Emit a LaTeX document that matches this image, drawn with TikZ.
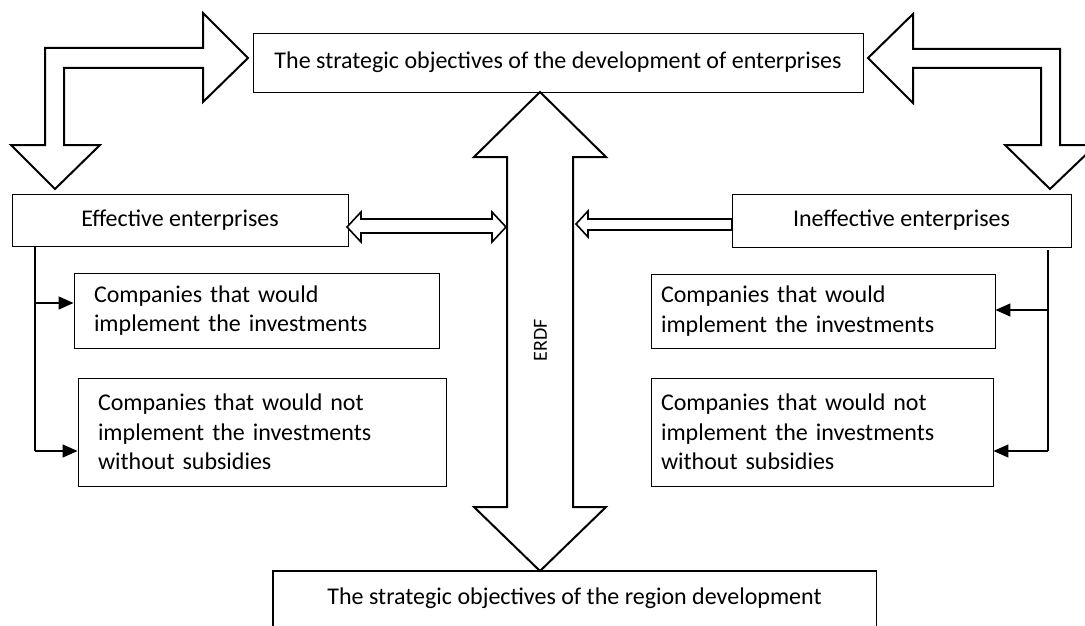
\documentclass[tikz,border=0pt]{standalone}
\usepackage{fontspec}
\setmainfont{Carlito}
\usetikzlibrary{arrows.meta}
\begin{document}
\begin{tikzpicture}[x=1pt,y=-1pt,
  box/.style={draw,line width=0.9pt,inner sep=0pt,font=\fontsize{24}{29.5}\selectfont},
  lbox/.style={box,align=left,text width=#1},
  blockarrow/.style={draw,line width=2pt,line join=miter,fill=white},
  thinarrow/.style={draw,line width=1.6pt,line join=miter,fill=white},
  conn/.style={line width=1.4pt},
  arr/.style={conn,-{Triangle[length=15pt,width=13pt]}}]
\clip (0,0) rectangle (1085,626);
\fill[white] (0,0) rectangle (1085,626);
% boxes
\node[box,minimum width=610pt,minimum height=59pt] (top) at (558,62.5) {The strategic objectives of the development of enterprises};
\node[box,minimum width=336pt,minimum height=52pt] (eff) at (180,220) {Effective enterprises};
\node[box,minimum width=339pt,minimum height=53pt] (ineff) at (901.5,220.5) {Ineffective enterprises};
\node[lbox=325pt,minimum height=75pt,inner xsep=20pt] (L2) at (256.5,310.5) {Companies that would\\implement the investments};
\node[lbox=328pt,minimum height=108pt,inner xsep=20pt] (L3) at (262,432) {Companies that would not\\implement the investments\\without subsidies};
\node[lbox=324pt,minimum height=74pt,inner xsep=10pt] (R2) at (823,311) {Companies that would\\implement the investments};
\node[lbox=322pt,minimum height=108pt,inner xsep=10pt] (R3) at (822,432) {Companies that would not\\implement the investments\\without subsidies};
\node[inner sep=0pt,minimum width=603pt,minimum height=55pt,font=\fontsize{24}{29.5}\selectfont] (bot) at (574.5,598.5) {The strategic objectives of the region development};
\draw[line width=1.4pt] (bot.south west) -- (bot.north west) -- (bot.north east) -- (bot.south east);
% top-left bent block arrow
\path[blockarrow] (45,145) -- (45,48) -- (203,48) -- (203,13) -- (248,58) -- (203,102) -- (203,68) -- (64,68) -- (64,145) -- (100,145) -- (55,189) -- (11,145) -- cycle;
% top-right bent block arrow
\path[blockarrow] (868,58) -- (913,14) -- (913,49) -- (1060,49) -- (1060,145) -- (1096,145) -- (1050,189) -- (1005,145) -- (1041,145) -- (1041,68) -- (913,68) -- (913,103) -- cycle;
% ERDF vertical double block arrow
\path[blockarrow] (540,92) -- (606,157) -- (573,157) -- (573,507) -- (606,507) -- (540,571) -- (474,507) -- (507,507) -- (507,157) -- (474,157) -- cycle;
\node[rotate=90,inner sep=0pt,font=\fontsize{20}{24}\selectfont] (erdf) at (540.5,340) {ERDF};
% double arrow effective <-> ERDF
\path[thinarrow] (347,227) -- (361,212) -- (361,219) -- (492,219) -- (492,212) -- (506,227) -- (492,242) -- (492,233) -- (361,233) -- (361,242) -- cycle;
% single arrow ineffective -> ERDF
\path[thinarrow] (576,224) -- (588,211) -- (588,219) -- (732,219) -- (732,230) -- (588,230) -- (588,237) -- cycle;
% left connectors
\coordinate (jL2) at (35,303);
\coordinate (jL3) at (35,451);
\draw[conn] (eff.south west -| jL2) -- (jL3);
\draw[arr] (jL2) -- (jL2 -| L2.west);
\draw[arr] (jL3) -- (jL3 -| L3.west);
% right connectors
\coordinate (jR2) at (1048,310);
\coordinate (jR3) at (1048,451);
\draw[conn] (1048,250) -- (jR3);
\draw[arr] (jR2) -- (jR2 -| R2.east);
\draw[arr] (jR3) -- (jR3 -| R3.east);
\end{tikzpicture}
\end{document}
